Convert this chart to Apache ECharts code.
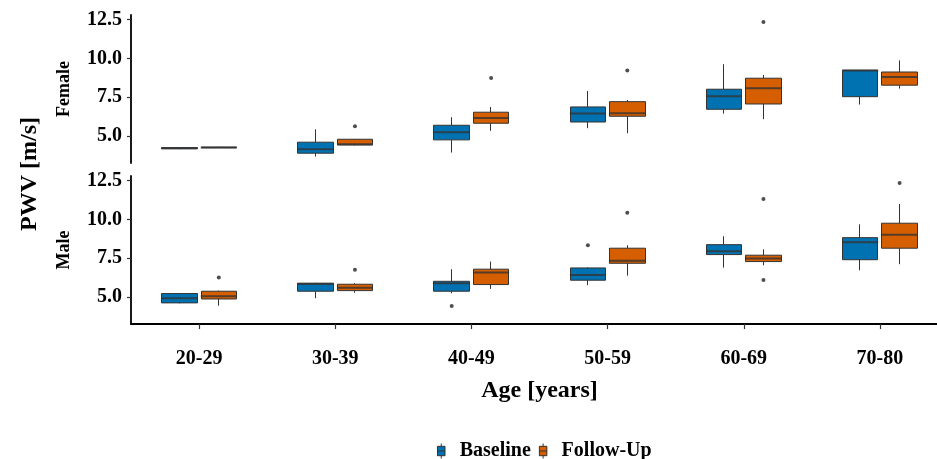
<!DOCTYPE html>
<html>
<head>
<meta charset="utf-8">
<script src="https://cdn.jsdelivr.net/npm/echarts@6/dist/echarts.min.js"></script>
<style>
  html, body { margin: 0; padding: 0; background: #fff; }
  #chart { width: 937px; height: 459px; }
</style>
</head>
<body>
<div id="chart"></div>
<script>
// age groups
const ageGroups = ['20-29', '30-39', '40-49', '50-59', '60-69', '70-80']
const yTicks = [5, 7.5, 10, 12.5]

// [min, q1, median, q3, max] per age group
const femaleBaseline = [
  [4.16, 4.19, 4.22, 4.26, 4.29],
  [3.68, 3.90, 4.16, 4.61, 5.44],
  [3.94, 4.76, 5.25, 5.70, 6.22],
  [5.51, 5.91, 6.45, 6.88, 7.91],
  [6.45, 6.73, 7.57, 8.02, 9.63],
  [7.03, 7.54, 9.22, 9.24, 9.24],
]
const femaleFollowUp = [
  [4.24, 4.25, 4.27, 4.29, 4.31],
  [4.40, 4.43, 4.47, 4.80, 4.82],
  [5.34, 5.83, 6.17, 6.54, 6.88],
  [5.19, 6.28, 6.47, 7.22, 7.33],
  [6.09, 7.07, 8.08, 8.73, 8.94],
  [8.06, 8.28, 8.81, 9.13, 9.88],
]
const maleBaseline = [
  [4.60, 4.63, 4.93, 5.23, 5.25],
  [4.93, 5.38, 5.85, 5.90, 5.92],
  [5.25, 5.38, 5.90, 6.02, 6.80],
  [5.77, 6.09, 6.43, 6.88, 6.92],
  [6.90, 7.74, 7.95, 8.38, 8.92],
  [6.73, 7.41, 8.53, 8.83, 9.69],
]
const maleFollowUp = [
  [4.45, 4.88, 5.06, 5.38, 5.42],
  [5.29, 5.42, 5.61, 5.83, 5.90],
  [5.53, 5.81, 6.58, 6.80, 7.29],
  [6.38, 7.18, 7.35, 8.15, 8.34],
  [7.05, 7.29, 7.48, 7.70, 8.08],
  [7.12, 8.15, 9.02, 9.76, 11.00],
]

// outliers: [age group index, value]
const femaleBaselineOut = []
const femaleFollowUpOut = [[1, 5.64], [2, 8.75], [3, 9.22], [4, 12.35]]
const maleBaselineOut = [[2, 4.43], [3, 8.34]]
const maleFollowUpOut = [[0, 6.26], [1, 6.77], [3, 10.44], [4, 11.32], [4, 6.11], [5, 12.35]]

const BLUE = '#0072B2'
const ORANGE = '#D55E00'
const FONT = '"Liberation Serif", "Times New Roman", serif'
const Y_MIN = 3.27
const Y_MAX = 12.8

const GRID_LEFT = 131
const GRID_W = 817
const SHIFT = 19.7
const BOX_W = 36

const chart = echarts.init(document.getElementById('chart'))

// panel rows: top & height
const panels = [
  { top: 15, height: 148, label: 'Female', base: femaleBaseline, follow: femaleFollowUp, baseOut: femaleBaselineOut, followOut: femaleFollowUpOut },
  { top: 176, height: 148, label: 'Male', base: maleBaseline, follow: maleFollowUp, baseOut: maleBaselineOut, followOut: maleFollowUpOut },
]

const grids = []
const xAxes = []
const yAxes = []
const series = []

function boxSeries(name, color, gi, stats, outliers) {
  series.push({
    name: name,
    type: 'candlestick',
    xAxisIndex: gi, yAxisIndex: gi,
    barWidth: BOX_W,
    itemStyle: { color: color, color0: color, borderColor: '#333', borderColor0: '#333', borderWidth: 1 },
    data: stats.map(s => [s[1], s[3], s[0], s[4]]),
  })
  series.push({
    name: name,
    type: 'scatter',
    xAxisIndex: gi, yAxisIndex: gi,
    symbol: 'rect',
    symbolSize: [BOX_W, 2],
    itemStyle: { color: '#333' },
    data: stats.map((s, i) => [i, s[2]]),
    z: 3,
  })
  series.push({
    name: name,
    type: 'scatter',
    xAxisIndex: gi, yAxisIndex: gi,
    symbol: 'circle',
    symbolSize: 4,
    itemStyle: { color: '#222' },
    data: outliers,
    z: 3,
  })
}

panels.forEach((p, pi) => {
  const isBottom = pi === panels.length - 1
  // visible axes grid
  const gv = grids.length
  grids.push({ left: GRID_LEFT, top: p.top, width: GRID_W, height: p.height, outerBoundsMode: 'none', containLabel: false })
  xAxes.push({
    gridIndex: gv,
    type: 'category',
    data: ageGroups,
    name: isBottom ? 'Age [years]' : '',
    nameLocation: 'middle',
    nameGap: 55,
    nameTextStyle: { fontFamily: FONT, fontWeight: 'bold', fontSize: 24, color: '#000' },
    axisLine: { show: isBottom, lineStyle: { color: '#000', width: 1.8 } },
    axisTick: { show: isBottom, alignWithLabel: true, length: 5, lineStyle: { color: '#333', width: 1.2 } },
    axisLabel: { show: isBottom, fontFamily: FONT, fontWeight: 'bold', fontSize: 20, color: '#000', margin: 25 },
    splitLine: { show: false },
  })
  yAxes.push({
    gridIndex: gv,
    type: 'value',
    min: Y_MIN,
    max: Y_MAX,
    name: p.label,
    nameLocation: 'middle',
    nameGap: 58,
    nameTextStyle: { fontFamily: FONT, fontWeight: 'bold', fontSize: 18, color: '#000' },
    axisLine: { show: true, lineStyle: { color: '#000', width: 1.8 } },
    axisTick: { show: true, length: 4, customValues: yTicks, lineStyle: { color: '#333', width: 1.2 } },
    axisLabel: {
      customValues: yTicks,
      formatter: v => Number(v).toFixed(1),
      fontFamily: FONT, fontWeight: 'bold', fontSize: 20, color: '#000', margin: 9,
    },
    splitLine: { show: false },
  })

  // hidden grids for dodged boxes
  ;[[-SHIFT, 'Baseline', BLUE, p.base, p.baseOut], [SHIFT, 'Follow-Up', ORANGE, p.follow, p.followOut]].forEach(d => {
    const gi = grids.length
    grids.push({ left: GRID_LEFT + d[0], top: p.top, width: GRID_W, height: p.height, outerBoundsMode: 'none', containLabel: false })
    xAxes.push({ gridIndex: gi, type: 'category', data: ageGroups, show: false })
    yAxes.push({ gridIndex: gi, type: 'value', min: Y_MIN, max: Y_MAX, show: false, splitLine: { show: false } })
    boxSeries(d[1], d[2], gi, d[3], d[4])
  })
})

const legendIcon = 'path://M5,0L5,3M1,3L9,3L9,13L1,13ZM1,8L9,8M5,13L5,16'

const option = {
  animation: false,
  backgroundColor: '#fff',
  grid: grids,
  xAxis: xAxes,
  yAxis: yAxes,
  legend: {
    left: 432,
    top: 436,
    itemWidth: 9,
    itemHeight: 15,
    itemGap: 8,
    textStyle: { fontFamily: FONT, fontWeight: 'bold', fontSize: 20, color: '#000', padding: [0, 0, 0, 9] },
    data: [
      { name: 'Baseline', icon: legendIcon, itemStyle: { color: BLUE, borderColor: '#333', borderWidth: 1 } },
      { name: 'Follow-Up', icon: legendIcon, itemStyle: { color: ORANGE, borderColor: '#333', borderWidth: 1 } },
    ],
  },
  graphic: [
    {
      type: 'text',
      x: 30,
      y: 174,
      rotation: Math.PI / 2,
      style: {
        text: 'PWV [m/s]',
        font: 'bold 24px ' + FONT,
        fill: '#000',
        textAlign: 'center',
        textVerticalAlign: 'middle',
      },
    },
  ],
  series: series,
}

chart.setOption(option)
</script>
</body>
</html>
